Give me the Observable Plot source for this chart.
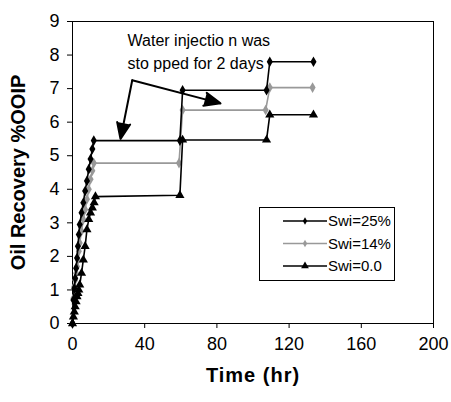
<!DOCTYPE html>
<html>
<head>
<meta charset="utf-8">
<script src="https://cdn.jsdelivr.net/npm/d3@7"></script>
<script src="https://cdn.jsdelivr.net/npm/@observablehq/plot@0.6"></script>
<style>
  body { margin: 0; background: white; }
  #chart svg { display: block; }
</style>
</head>
<body>
<div id="chart"></div>
<script>
// ---- data ----
const seriesNames = ["Swi=25%", "Swi=14%", "Swi=0.0"];

const timeSwi25 = [0, 0.5, 1, 1.5, 2, 2.5, 3, 3.5, 4, 5, 6, 7, 8, 9, 10, 11, 11.8, 59.5, 61, 107.5, 109.3, 133.5];
const recSwi25  = [0, 0.7, 1.05, 1.35, 1.65, 1.95, 2.3, 2.65, 2.95, 3.3, 3.6, 3.95, 4.25, 4.6, 4.9, 5.2, 5.45, 5.45, 6.95, 6.95, 7.8, 7.8];

const timeSwi14 = [0, 0.5, 1, 1.5, 2, 2.5, 3, 3.5, 4, 5, 6, 7, 8, 9, 10, 11, 11.8, 59, 61, 107, 109.3, 133];
const recSwi14  = [0, 0.75, 1.1, 1.3, 1.5, 1.7, 1.9, 2.15, 2.4, 2.75, 3.1, 3.4, 3.7, 4.0, 4.3, 4.55, 4.78, 4.78, 6.36, 6.36, 7.03, 7.03];

const timeSwi0  = [0, 0.5, 1, 1.5, 2, 2.5, 3, 3.5, 4, 5, 6, 7, 8, 9, 10, 11, 12, 12.7, 59.5, 61, 107.5, 109.3, 133.5];
const recSwi0   = [0, 0.2, 0.35, 0.5, 0.65, 0.8, 0.9, 1.0, 1.15, 1.5, 1.9, 2.3, 2.8, 3.1, 3.3, 3.45, 3.6, 3.78, 3.82, 5.47, 5.47, 6.22, 6.22];

const xTicks = [0, 40, 80, 120, 160, 200];
const yTicks = [0, 1, 2, 3, 4, 5, 6, 7, 8, 9];

const noteLines = ["Water injectio n was", "sto pped for 2 days"];
const noteX = [30.5, 30.5];
const noteY = [8.42, 7.74];

const arrowX1 = [33.1, 33.1];
const arrowY1 = [7.25, 7.25];
const arrowX2 = [26.6, 82];
const arrowY2 = [5.5, 6.56];

// ---- tables ----
const rows = (t, v) => t.map((d, i) => ({t: d, v: v[i]}));
const d25 = rows(timeSwi25, recSwi25);
const d14 = rows(timeSwi14, recSwi14);
const d0 = rows(timeSwi0, recSwi0);
const notes = noteLines.map((s, i) => ({s, x: noteX[i], y: noteY[i]}));
const arrows = arrowX1.map((d, i) => ({x1: d, y1: arrowY1[i], x2: arrowX2[i], y2: arrowY2[i]}));

const colors = ["#000000", "#999999", "#000000"];
const FONT = "'Liberation Sans', Arial, Helvetica, sans-serif";

const plot = Plot.plot({
  width: 451,
  height: 402,
  marginLeft: 72,
  marginRight: 18,
  marginTop: 21,
  marginBottom: 79,
  style: {fontFamily: FONT, fontSize: "18px", background: "white", color: "black", overflow: "visible"},
  x: {domain: [0, 200], ticks: xTicks, label: null},
  y: {domain: [0, 9], ticks: yTicks, label: null},
  marks: [
    Plot.frame({stroke: "black", strokeWidth: 1}),
    Plot.axisX({ticks: xTicks, tickSize: 5, tickPadding: 9, fontSize: 18, label: null, stroke: "black"}),
    Plot.axisY({ticks: yTicks, tickSize: 5, tickPadding: 8, fontSize: 18, label: null, stroke: "black"}),
    Plot.line(d14, {x: "t", y: "v", stroke: colors[1], strokeWidth: 1.6}),
    Plot.dot(d14, {x: "t", y: "v", symbol: "diamond", r: 3.2, fill: colors[1], stroke: "none"}),
    Plot.line(d0, {x: "t", y: "v", stroke: colors[2], strokeWidth: 1.6}),
    Plot.dot(d0, {x: "t", y: "v", symbol: "triangle", r: 3.4, fill: colors[2], stroke: "none"}),
    Plot.line(d25, {x: "t", y: "v", stroke: colors[0], strokeWidth: 1.6}),
    Plot.dot(d25, {x: "t", y: "v", symbol: "diamond", r: 3.2, fill: colors[0], stroke: "none"}),
    Plot.arrow(arrows, {x1: "x1", y1: "y1", x2: "x2", y2: "y2", stroke: "black", strokeWidth: 2, headLength: 13, headAngle: 45}),
    Plot.text(notes, {x: "x", y: "y", text: "s", textAnchor: "start", fontSize: 16, fill: "black"}),
    Plot.text(["Time (hr)"], {frameAnchor: "bottom", dy: 58, fontSize: 20, fontWeight: "bold", fill: "black", textAnchor: "middle"}),
    Plot.text(["Oil Recovery %OOIP"], {frameAnchor: "left", dx: -54, rotate: -90, fontSize: 20, fontWeight: "bold", fill: "black", textAnchor: "middle"})
  ]
});

const svg = d3.select(plot);
// filled arrow heads
svg.selectAll('g[aria-label="arrow"] path')
  .attr("fill", "black").attr("stroke-linejoin", "miter");
svg.selectAll("text").filter(function () { return this.textContent === "Time (hr)"; })
  .style("letter-spacing", "1px");

// legend (box drawn in pixel space)
const lg = svg.append("g").attr("class", "legend").attr("text-anchor", "start");
lg.append("rect").attr("x", 259.5).attr("y", 207.5).attr("width", 135).attr("height", 73)
  .attr("fill", "white").attr("stroke", "black").attr("stroke-width", 1);
const symbols = [d3.symbolDiamond, d3.symbolDiamond, d3.symbolTriangle];
const symSizes = [16, 16, 26];
seriesNames.forEach((name, i) => {
  const y = 221 + i * 22.5;
  lg.append("line").attr("x1", 283).attr("x2", 327).attr("y1", y).attr("y2", y)
    .attr("stroke", colors[i]).attr("stroke-width", 1.6);
  lg.append("path").attr("d", d3.symbol(symbols[i], symSizes[i])())
    .attr("transform", `translate(305,${y})`).attr("fill", colors[i]);
  lg.append("text").attr("x", 328).attr("y", y).attr("dy", "0.35em")
    .attr("font-size", 15).attr("fill", "black").attr("text-anchor", "start").text(name);
});

document.getElementById("chart").appendChild(plot);
</script>
</body>
</html>
